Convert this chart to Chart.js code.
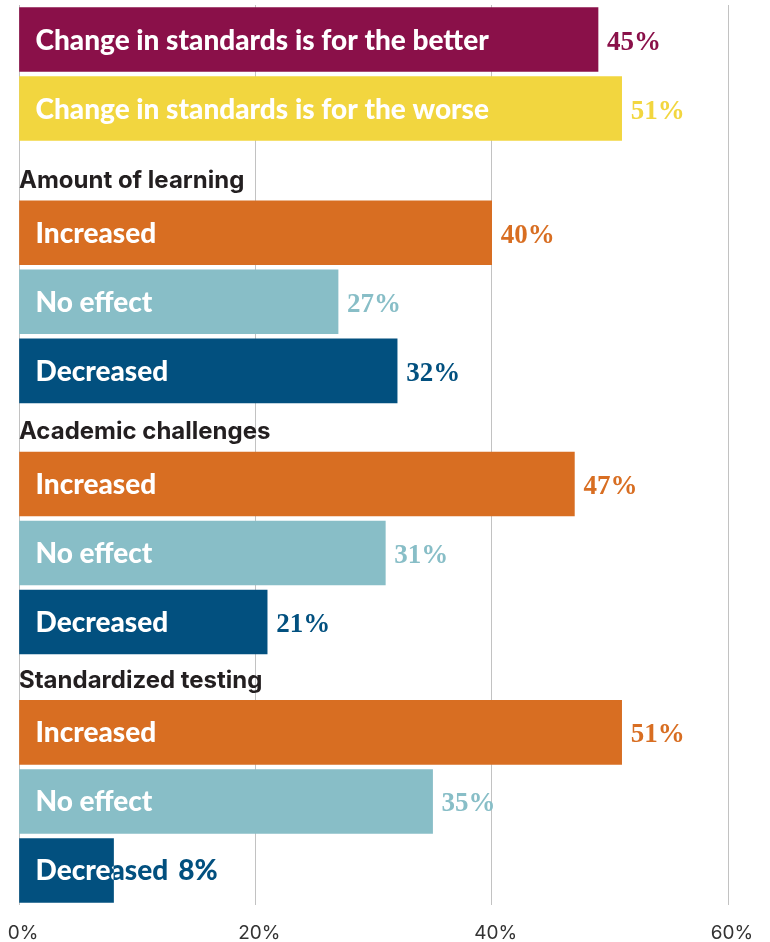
<!DOCTYPE html>
<html>
<head>
<meta charset="utf-8">
<script src="https://cdn.jsdelivr.net/npm/chart.js@4"></script>
<style>
  body { margin: 0; background: #fff; }
  #wrap { width: 770px; height: 942px; position: relative; }
</style>
</head>
<body>
<div id="wrap"><canvas id="chart"></canvas></div>
<script>
// rows top to bottom; a null value marks a group heading
const ROWS = [
    "Change in standards is for the better",
    "Change in standards is for the worse",
    "Amount of learning",
    "Increased",
    "No effect",
    "Decreased",
    "Academic challenges",
    "Increased",
    "No effect",
    "Decreased",
    "Standardized testing",
    "Increased",
    "No effect",
    "Decreased",
];

// bar lengths as drawn (first bar is drawn longer than its 45% label)
const VALUES = [49, 51, null, 40, 27, 32, null, 47, 31, 21, null, 51, 35, 8];

const VALUE_LABELS = ["45%", "51%", null, "40%", "27%", "32%", null, "47%", "31%", "21%", null, "51%", "35%", "8%"];

const X_TICKS = [0, 20, 40, 60];

const BAR_COLORS = {
    "Change in standards is for the better": "#8a1049",
    "Change in standards is for the worse": "#f2d63f",
    "Increased": "#d86e22",
    "No effect": "#88bec7",
    "Decreased": "#02507f",
};

const LABEL_FONT = "900 28px Lato";
const VALUE_FONT = "bold 27px 'Liberation Serif'";
const HEADING_FONT = "700 24px Inter";

// heading rows are shorter than bar rows (in bar-row units)
const HEADING_STEPS = [0.8, 0.64, 0.6];

let rowPos = [];
let cursor = 0;
let h = 0;
ROWS.forEach(function (name, i) {
    let step = VALUES[i] === null ? HEADING_STEPS[h++] : 1;
    rowPos.push(cursor + step / 2);
    cursor += step;
});
const Y_MAX = cursor;

const BAR_ROWS = ROWS.map((n, i) => i).filter(i => VALUES[i] !== null);

const barText = {
    id: "barText",
    afterDatasetsDraw(chart) {
        let ctx = chart.ctx;
        let yScale = chart.scales.y;
        ctx.save();
        ctx.textAlign = "left";
        ctx.textBaseline = "alphabetic";

        // group headings, sitting just above the next bar
        ctx.font = HEADING_FONT;
        ctx.fillStyle = "#231f20";
        let k = 0;
        ROWS.forEach(function (name, i) {
            if (VALUES[i] !== null) return;
            let bottom = yScale.getPixelForValue(rowPos[i] + HEADING_STEPS[k++] / 2);
            ctx.fillText(name, chart.chartArea.left, bottom - 10);
        });

        chart.getDatasetMeta(0).data.forEach(function (bar, j) {
            let i = BAR_ROWS[j];
            let p = bar.getProps(["x", "y", "base", "height"], true);
            let color = BAR_COLORS[ROWS[i]];
            let top = p.y - p.height / 2;
            let tx = p.base + 16;
            let ty = p.y + 10;

            ctx.font = LABEL_FONT;
            let labelEnd = tx + ctx.measureText(ROWS[i]).width;

            // label: bar colour outside the bar, white inside it
            ctx.fillStyle = color;
            ctx.fillText(ROWS[i], tx, ty);
            ctx.save();
            ctx.beginPath();
            ctx.rect(p.base, top, p.x - p.base, p.height);
            ctx.clip();
            ctx.fillStyle = "#fff";
            ctx.fillText(ROWS[i], tx, ty);
            ctx.restore();

            ctx.fillStyle = color;
            if (labelEnd + 8 > p.x) {
                ctx.fillText(VALUE_LABELS[i], labelEnd + 10, ty);
            } else {
                ctx.font = VALUE_FONT;
                ctx.fillText(VALUE_LABELS[i], p.x + 9, ty);
            }
        });
        ctx.restore();
    }
};

new Chart(document.getElementById("chart"), {
    type: "bar",
    data: {
        datasets: [{
            data: BAR_ROWS.map(i => ({x: VALUES[i], y: rowPos[i]})),
            backgroundColor: BAR_ROWS.map(i => BAR_COLORS[ROWS[i]]),
            barThickness: 64,
            borderWidth: 0,
        }],
    },
    options: {
        indexAxis: "y",
        animation: false,
        responsive: true,
        maintainAspectRatio: false,
        layout: {
            padding: {left: 19, right: 42, top: 5, bottom: 0},
        },
        scales: {
            x: {
                type: "linear",
                min: X_TICKS[0],
                max: X_TICKS[X_TICKS.length - 1],
                afterBuildTicks: function (axis) {
                    axis.ticks = X_TICKS.map(v => ({value: v}));
                },
                afterFit: function (axis) {
                    axis.paddingLeft = 0;
                    axis.paddingRight = 0;
                    axis.height = 37;
                },
                grid: {
                    color: "#c2c2c2",
                    lineWidth: 1,
                    drawTicks: false,
                },
                border: {display: false},
                ticks: {
                    padding: 17,
                    labelOffset: 4,
                    maxRotation: 0,
                    color: "#333",
                    font: {family: "Inter", size: 19},
                    callback: v => v + "%",
                },
            },
            y: {
                type: "linear",
                reverse: true,
                offset: false,
                min: 0,
                max: Y_MAX,
                display: false,
            },
        },
        plugins: {
            legend: {display: false},
            tooltip: {enabled: false},
        },
    },
    plugins: [barText],
});
</script>
</body>
</html>
